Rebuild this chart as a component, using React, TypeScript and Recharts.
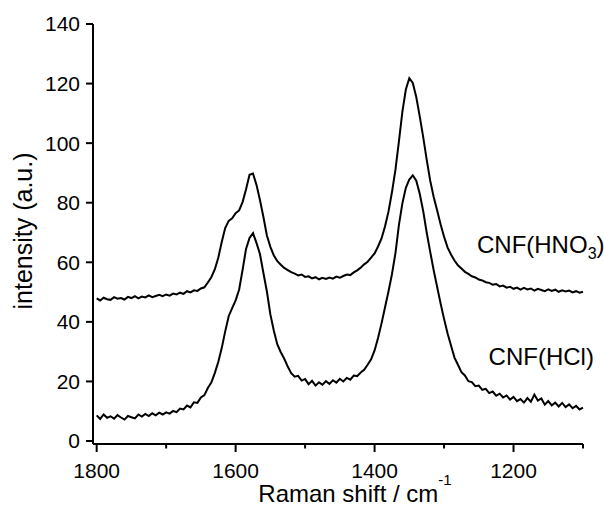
import { LineChart, Line, XAxis, YAxis, ReferenceDot } from 'recharts';

// Raman shift in cm-1, every 5 cm-1
const ramanShift = [
  1800, 1795, 1790, 1785, 1780, 1775, 1770, 1765, 1760, 1755,
  1750, 1745, 1740, 1735, 1730, 1725, 1720, 1715, 1710, 1705,
  1700, 1695, 1690, 1685, 1680, 1675, 1670, 1665, 1660, 1655,
  1650, 1645, 1640, 1635, 1630, 1625, 1620, 1615, 1610, 1605,
  1600, 1595, 1590, 1585, 1580, 1575, 1570, 1565, 1560, 1555,
  1550, 1545, 1540, 1535, 1530, 1525, 1520, 1515, 1510, 1505,
  1500, 1495, 1490, 1485, 1480, 1475, 1470, 1465, 1460, 1455,
  1450, 1445, 1440, 1435, 1430, 1425, 1420, 1415, 1410, 1405,
  1400, 1395, 1390, 1385, 1380, 1375, 1370, 1365, 1360, 1355,
  1350, 1345, 1340, 1335, 1330, 1325, 1320, 1315, 1310, 1305,
  1300, 1295, 1290, 1285, 1280, 1275, 1270, 1265, 1260, 1255,
  1250, 1245, 1240, 1235, 1230, 1225, 1220, 1215, 1210, 1205,
  1200, 1195, 1190, 1185, 1180, 1175, 1170, 1165, 1160, 1155,
  1150, 1145, 1140, 1135, 1130, 1125, 1120, 1115, 1110, 1105,
  1100,
];

const cnfHNO3 = [
  47.9, 47.2, 48.1, 47.6, 47.4, 48.3, 47.8, 48.0, 47.5, 48.4,
  48.0, 48.6, 47.9, 48.5, 48.2, 48.9, 48.3, 48.7, 49.1, 48.6,
  49.2, 48.8, 49.5, 49.2, 49.8, 49.4, 50.3, 49.9, 50.6, 50.4,
  51.2, 51.6, 53.2, 55.0, 57.6, 61.5, 66.8, 71.5, 73.9, 74.8,
  76.5, 77.4, 80.2, 84.5, 89.4, 89.8, 86.0, 80.9, 75.2, 69.0,
  65.2, 62.3, 60.4, 59.2, 58.1, 57.4, 56.7, 56.2, 55.6, 55.9,
  55.1, 55.3, 54.6, 55.0, 54.3, 54.8, 54.4, 54.9, 54.5, 55.2,
  54.8, 55.4, 55.9, 55.7, 56.6, 57.3, 58.2, 59.3, 60.2, 61.6,
  63.0, 65.3, 68.0, 72.0, 77.0, 83.5, 91.0, 100.5, 110.5, 118.0,
  121.8, 120.2, 115.5, 109.0, 102.0, 94.5, 87.5, 82.0, 77.5, 72.8,
  68.6, 65.0, 62.6, 60.6, 59.0, 57.9, 56.8, 56.1, 55.3, 54.9,
  54.2, 53.9, 53.3, 53.1, 52.5, 52.7, 51.9, 52.2, 51.5, 51.8,
  51.1, 51.5, 50.8, 51.4, 50.9, 51.2, 50.5, 51.1, 50.7, 50.3,
  50.9, 50.4, 50.8, 50.1, 50.6, 50.2, 50.5, 49.9, 50.3, 49.8,
  50.1,
];

const cnfHCl = [
  8.6, 7.4, 8.9, 7.8, 8.3, 7.5, 8.7, 7.9, 7.2, 8.4,
  8.0, 7.6, 8.9, 8.2, 9.1, 8.4, 9.3, 8.6, 9.5, 8.9,
  9.6, 9.2, 10.1, 9.7, 10.9, 10.6, 11.9, 11.3, 13.0, 12.8,
  14.6, 15.4, 17.8, 19.6, 22.8, 26.5, 31.2, 36.8, 41.9, 44.6,
  47.2, 50.8, 57.4, 64.5, 68.2, 69.8, 66.5, 62.8, 56.4, 50.2,
  42.5, 37.0, 32.4, 29.8, 27.6, 25.0, 22.8, 21.6, 21.9, 20.3,
  20.8, 19.1, 20.2, 18.6, 19.7, 18.9, 20.1, 19.2, 20.4, 19.6,
  20.9, 20.0, 21.2, 20.6, 22.0, 21.8, 23.0, 23.9, 25.6, 27.4,
  30.4, 34.6, 39.5, 44.8, 50.2, 56.0, 63.0, 72.5, 79.8, 85.0,
  87.8, 89.2, 87.4, 83.0, 77.2, 70.0, 63.6, 57.4, 51.8, 46.2,
  41.0, 36.2, 32.1, 28.0, 25.6, 23.1, 22.0, 20.1, 19.8, 18.4,
  18.6, 17.2, 17.5, 16.1, 16.6, 15.2, 15.9, 14.6, 15.3, 13.9,
  14.8, 13.4, 14.1, 12.9, 14.4, 13.2, 15.6, 13.6, 14.3, 12.2,
  13.4, 12.0, 12.9, 11.6, 12.8, 11.4, 12.3, 11.0, 11.8, 10.6,
  11.2,
];

const xTicks = [1800, 1700, 1600, 1500, 1400, 1300, 1200, 1100];
const xLabelled = [1800, 1600, 1400, 1200];
const yTicks = [0, 20, 40, 60, 80, 100, 120, 140];

const data = ramanShift.map((shift, i) => ({ shift, hno3: cnfHNO3[i], hcl: cnfHCl[i] }));

const FONT = '"Liberation Sans", Arial, Helvetica, sans-serif';

const XTick = (props: any) => {
  const { x, y, payload } = props;
  const major = xLabelled.includes(payload.value);
  return (
    <g>
      <line x1={x} x2={x} y1={y} y2={y + (major ? 8 : 4.5)} stroke="#000" strokeWidth={2} />
      {major && (
        <text x={x} y={y + 34} textAnchor="middle" fontSize={21} fill="#000" fontFamily={FONT}>
          {payload.value}
        </text>
      )}
    </g>
  );
};

const XTitle = (props: any) => {
  const { viewBox } = props;
  const cx = viewBox.x + viewBox.width / 2 + 17;
  return (
    <text x={cx} y={viewBox.y + 58} textAnchor="middle" fontSize={24} fill="#000" fontFamily={FONT}>
      Raman shift / cm
      <tspan fontSize={15} dy={-17}>-1</tspan>
    </text>
  );
};

const YTitle = (props: any) => {
  const { viewBox } = props;
  const cx = 23;
  const cy = viewBox.y + viewBox.height / 2 - 3;
  return (
    <text
      x={cx}
      y={cy}
      transform={`rotate(-90, ${cx}, ${cy})`}
      textAnchor="middle"
      dominantBaseline="central"
      fontSize={25}
      fill="#000"
      fontFamily={FONT}
    >
      intensity (a.u.)
    </text>
  );
};

const seriesLabel = (main: string, sub?: string, rest?: string) => (props: any) => (
  <text x={props.cx} y={props.cy} fontSize={24} fill="#000" fontFamily={FONT}>
    {main}
    {sub && <tspan fontSize={16} dy={6}>{sub}</tspan>}
    {rest && <tspan dy={sub ? -6 : 0}>{rest}</tspan>}
  </text>
);

export default function App() {
  return (
    <div style={{ position: 'absolute', left: 0, top: 0, width: 604, height: 516, background: '#fff', fontFamily: FONT }}>
      <LineChart width={604} height={516} data={data} margin={{ top: 24, right: 21, bottom: 0, left: 0 }}>
        <XAxis
          dataKey="shift"
          type="number"
          domain={[1100, 1805.3]}
          reversed
          ticks={xTicks}
          interval={0}
          tickSize={0}
          tickMargin={0}
          tickLine={false}
          tick={<XTick />}
          height={72}
          axisLine={{ stroke: '#000', strokeWidth: 2 }}
          label={<XTitle />}
        />
        <YAxis
          type="number"
          domain={[-1, 140]}
          ticks={yTicks}
          interval={0}
          width={93}
          tickSize={7}
          tickMargin={6}
          tick={{ fill: '#000', fontSize: 21, fontFamily: FONT }}
          tickLine={{ stroke: '#000', strokeWidth: 2 }}
          axisLine={{ stroke: '#000', strokeWidth: 2 }}
          label={<YTitle />}
        />
        <Line
          type="linear"
          dataKey="hno3"
          stroke="#000"
          strokeWidth={2}
          dot={false}
          isAnimationActive={false}
        />
        <Line
          type="linear"
          dataKey="hcl"
          stroke="#000"
          strokeWidth={2}
          dot={false}
          isAnimationActive={false}
        />
        <ReferenceDot x={1252.6} y={63} r={0} ifOverflow="visible" shape={seriesLabel('CNF(HNO', '3', ')')} />
        <ReferenceDot x={1235.9} y={25.4} r={0} ifOverflow="visible" shape={seriesLabel('CNF(HCl)')} />
      </LineChart>
    </div>
  );
}
